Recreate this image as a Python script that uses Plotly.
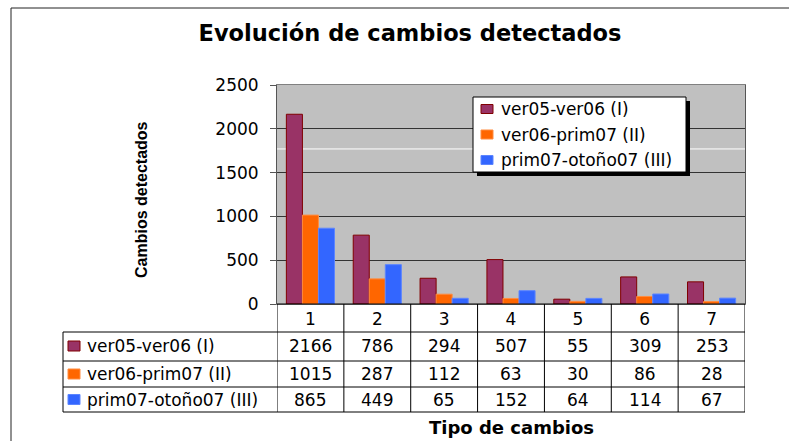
import plotly.graph_objects as go

# ---- data -------------------------------------------------------------
categories = ["1", "2", "3", "4", "5", "6", "7"]
series_names = ["ver05-ver06 (I)", "ver06-prim07 (II)", "prim07-otoño07 (III)"]
ver05_ver06 = [2166, 786, 294, 507, 55, 309, 253]
ver06_prim07 = [1015, 287, 112, 63, 30, 86, 28]
prim07_otono07 = [865, 449, 65, 152, 64, 114, 67]
y_ticks = [0, 500, 1000, 1500, 2000, 2500]

series_values = [ver05_ver06, ver06_prim07, prim07_otono07]
fills = ["#993366", "#FF6600", "#3366FF"]
edges = ["#800000", "#FF8C40", "#5C85FF"]

# ---- geometry (pixels of the 789x441 canvas) --------------------------
W, H = 789, 441
PL, PR, PT, PB = 277, 745, 85, 304  # plot area


def px_x(p):
    return (p - PL) / (PR - PL)


def px_y(p):
    return (PB - p) / (PB - PT)


FONT = "DejaVu Sans"
BLACK_LINE = dict(color="#000", width=1)

fig = go.Figure()
for name, vals, fc, ec in zip(series_names, series_values, fills, edges):
    fig.add_trace(go.Bar(
        x=categories, y=vals, name=name,
        marker=dict(color=fc, line=dict(color=ec, width=1)),
    ))

shapes = []
annotations = []

# stray white line across the plot area
shapes.append(dict(type="line", xref="paper", yref="y", x0=0, x1=1, y0=1770, y1=1770,
                   line=dict(color="#fff", width=1), layer="below"))

# table grid: column boundaries follow the category axis
for i in range(len(categories) + 1):
    shapes.append(dict(type="line", xref="x", yref="paper",
                       x0=i - 0.5, x1=i - 0.5, y0=0, y1=px_y(412), line=BLACK_LINE))
shapes.append(dict(type="line", xref="paper", yref="paper",
                   x0=0, x1=1, y0=0, y1=0, line=BLACK_LINE))
for yy in (332, 361, 387, 412):
    shapes.append(dict(type="line", xref="paper", yref="paper",
                       x0=px_x(63), x1=1, y0=px_y(yy), y1=px_y(yy), line=BLACK_LINE))
shapes.append(dict(type="line", xref="paper", yref="paper",
                   x0=px_x(63), x1=px_x(63), y0=px_y(332), y1=px_y(412), line=BLACK_LINE))

# outer frame
shapes.append(dict(type="line", xref="paper", yref="paper",
                   x0=px_x(11), x1=px_x(800), y0=px_y(8), y1=px_y(8),
                   line=dict(color="#222", width=1)))
shapes.append(dict(type="line", xref="paper", yref="paper",
                   x0=px_x(11), x1=px_x(11), y0=px_y(8), y1=px_y(450),
                   line=dict(color="#222", width=1)))

# legend box with drop shadow
shapes.append(dict(type="rect", xref="paper", yref="paper",
                   x0=px_x(477), x1=px_x(690), y0=px_y(101), y1=px_y(176),
                   fillcolor="#000", line=dict(width=0)))
shapes.append(dict(type="rect", xref="paper", yref="paper",
                   x0=px_x(473), x1=px_x(686), y0=px_y(97), y1=px_y(172),
                   fillcolor="#fff", line=BLACK_LINE))
legend_centers = [109, 134.5, 160]
for name, fc, ec, yc in zip(series_names, fills, edges, legend_centers):
    shapes.append(dict(type="rect", xref="paper", yref="paper",
                       x0=px_x(481), x1=px_x(493), y0=px_y(yc - 4.5), y1=px_y(yc + 4.5),
                       fillcolor=fc, line=dict(color=ec, width=1)))
    annotations.append(dict(xref="paper", yref="paper", x=px_x(499), y=px_y(yc),
                            xanchor="left", yanchor="middle", text=name, showarrow=False,
                            font=dict(family=FONT, size=17, color="#000")))

# data table rows
row_centers = [346, 374, 399.5]
for name, vals, fc, ec, yc in zip(series_names, series_values, fills, edges, row_centers):
    shapes.append(dict(type="rect", xref="paper", yref="paper",
                       x0=px_x(68), x1=px_x(80), y0=px_y(yc - 5), y1=px_y(yc + 5),
                       fillcolor=fc, line=dict(color=ec, width=1)))
    annotations.append(dict(xref="paper", yref="paper", x=px_x(85), y=px_y(yc),
                            xanchor="left", yanchor="middle", text=name, showarrow=False,
                            font=dict(family=FONT, size=17, color="#000")))
    for i, v in enumerate(vals):
        annotations.append(dict(xref="x", yref="paper", x=i, y=px_y(yc),
                                xanchor="center", yanchor="middle", text=str(v),
                                showarrow=False,
                                font=dict(family=FONT, size=17, color="#000")))

annotations.append(dict(xref="paper", yref="paper", x=0.5, y=px_y(427),
                        xanchor="center", yanchor="middle", text="<b>Tipo de cambios</b>",
                        showarrow=False, font=dict(family=FONT, size=18, color="#000")))
annotations.append(dict(xref="paper", yref="paper", x=px_x(141), y=px_y(200),
                        xanchor="center", yanchor="middle", text="<b>Cambios detectados</b>",
                        textangle=-90, showarrow=False,
                        font=dict(family="Liberation Sans, Arial", size=16, color="#000")))

fig.update_layout(
    width=W, height=H,
    margin=dict(l=PL, r=W - PR, t=PT, b=H - PB, pad=0),
    paper_bgcolor="#fff", plot_bgcolor="#C0C0C0",
    barmode="group", bargap=0.28, bargroupgap=0,
    showlegend=False,
    title=dict(text="<b>Evolución de cambios detectados</b>", x=px_x(410), xref="paper",
               xanchor="center", y=1 - 33 / H, yanchor="middle",
               font=dict(family=FONT, size=22.5, color="#000")),
    font=dict(family=FONT, color="#000"),
    shapes=shapes, annotations=annotations,
)
fig.update_xaxes(type="category", range=[-0.5, 6.5], showline=True, linecolor="#808080",
                 mirror=True, ticks="", tickfont=dict(family=FONT, size=17, color="#000"),
                 showgrid=False, fixedrange=True)
fig.update_yaxes(range=[0, 2500], tickvals=y_ticks, showline=True, linecolor="#555",
                 mirror=True, ticks="outside", ticklen=6, tickcolor="#555",
                 gridcolor="#333", gridwidth=1, zeroline=False,
                 tickfont=dict(family=FONT, size=17, color="#000"),
                 ticklabelstandoff=8, fixedrange=True)

fig.write_html("out.html", config=dict(displayModeBar=False),
               post_script="document.body.style.margin='0';")
